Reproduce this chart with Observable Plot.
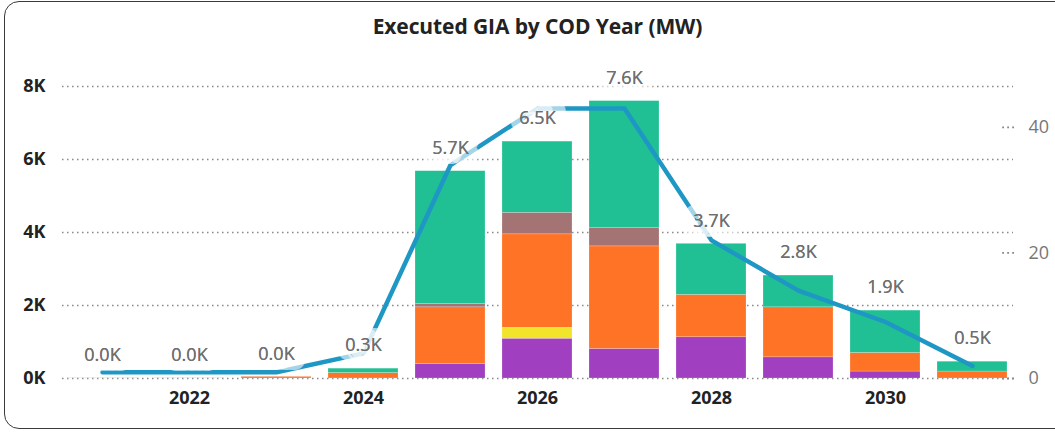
<!DOCTYPE html>
<html>
<head>
<meta charset="utf-8">
<script src="https://cdn.jsdelivr.net/npm/d3@7"></script>
<script src="https://cdn.jsdelivr.net/npm/@observablehq/plot@0.6"></script>
<style>
  html, body { margin: 0; padding: 0; background: #fff; width: 1055px; height: 433px; overflow: hidden; }
  #frame { position: absolute; left: 4px; top: 1px; width: 1070px; height: 428px; border: 1.6px solid #3a3a3a; border-radius: 15px; box-sizing: border-box; }
  #title { position: absolute; left: 0; width: 1075px; top: 12px; text-align: center; font-family: "Open Sans", sans-serif; font-weight: 700; font-size: 21px; color: #222; letter-spacing: -0.1px; }
  #chart { position: absolute; left: 0; top: 0; }
</style>
</head>
<body>
<div id="frame"></div>
<div id="title">Executed GIA by COD Year (MW)</div>
<div id="chart"></div>
<script>
// ---- data ----
const years = [2021, 2022, 2023, 2024, 2025, 2026, 2027, 2028, 2029, 2030, 2031];
const seriesNames = ["Type A", "Type B", "Type C", "Type D", "Type E"];
const typeA_MW = [0, 0, 0, 0, 400, 1090, 810, 1130, 580, 190, 0];
const typeB_MW = [0, 0, 0, 0, 0, 300, 0, 0, 0, 0, 0];
const typeC_MW = [5, 5, 45, 150, 1550, 2560, 2810, 1160, 1370, 510, 190];
const typeD_MW = [0, 0, 0, 0, 90, 590, 500, 0, 0, 0, 0];
const typeE_MW = [0, 0, 0, 120, 3640, 1950, 3480, 1400, 870, 1160, 270];
const countGIA = [1, 1, 1, 4, 34, 43, 43, 22, 14, 9, 2];
const seriesColors = ["#A03FBF", "#F2E42B", "#FE7325", "#A37473", "#21C094"];
const leftTicks = [0, 2000, 4000, 6000, 8000];
const rightTicks = [0, 20, 40];
const xTickYears = [2022, 2024, 2026, 2028, 2030];

// ---- derived tables ----
const seriesValues = [typeA_MW, typeB_MW, typeC_MW, typeD_MW, typeE_MW];
const stacked = [];
seriesNames.forEach((s, si) => {
  years.forEach((y, yi) => stacked.push({year: y, series: s, mw: seriesValues[si][yi]}));
});
const totals = years.map((y, i) => ({year: y, total: seriesValues.reduce((a, arr) => a + arr[i], 0)}));
const countFactor = 172; // MW per GIA count on the shared pixel scale
const lineData = years.map((y, i) => ({year: y, v: countGIA[i] * countFactor}));
const fmtK = v => d3.format(".1f")(v / 1000) + "K";

const chart = Plot.plot({
  width: 1055,
  height: 433,
  marginTop: 86,
  marginBottom: 55,
  marginLeft: 62,
  marginRight: 42,
  style: {fontFamily: "'Open Sans', sans-serif", background: "transparent", overflow: "visible"},
  x: {type: "band", domain: years, paddingInner: 0.19, paddingOuter: 0.04, axis: null},
  y: {domain: [0, 8000], axis: null},
  color: {domain: seriesNames, range: seriesColors},
  marks: [
    Plot.ruleY(leftTicks, {stroke: "#888", strokeWidth: 1.5, strokeDasharray: "1.5,3.5"}),
    Plot.barY(stacked, {x: "year", y: "mw", fill: {value: "series", scale: "color"}, stroke: "white", strokeOpacity: 0.35, strokeWidth: 0.6}),
    Plot.line(lineData, {x: "year", y: "v", stroke: "#1F97C4", strokeWidth: 4.5, strokeLinecap: "round", strokeLinejoin: "round"}),
    Plot.text(totals, {x: "year", y: "total", text: d => fmtK(d.total), dy: -23, fill: "#6f6f6f", fontSize: 18,
      stroke: "white", strokeOpacity: 0.6, strokeWidth: 20, strokeLinejoin: "round"}),
    Plot.text(totals, {x: "year", y: "total", text: d => fmtK(d.total), dy: -23, fill: "#6f6f6f", fontSize: 18}),
    Plot.axisY(leftTicks, {anchor: "left", tickSize: 0, tickPadding: 17, tickFormat: d => (d / 1000) + "K",
      fontSize: 18, fontWeight: 700, fill: "#222", label: null}),
    Plot.axisY(rightTicks.map(d => d * countFactor), {anchor: "right", tickSize: -12, tickPadding: 27,
      tickFormat: d => String(Math.round(d / countFactor)), fontSize: 18, fill: "#777", stroke: "#888",
      strokeWidth: 1.8, strokeDasharray: "1.8,3.2", label: null}),
    Plot.axisX(xTickYears, {anchor: "bottom", tickSize: 0, tickPadding: 13, fontSize: 18, fontWeight: 700, fill: "#222", label: null, tickFormat: d => String(d)})
  ]
});
document.getElementById("chart").appendChild(chart);
</script>
</body>
</html>
